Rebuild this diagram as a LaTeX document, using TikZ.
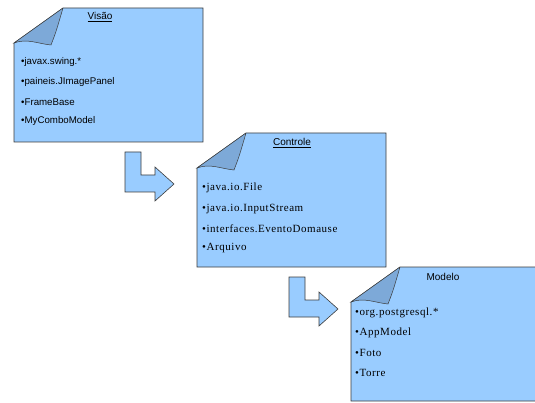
\documentclass[tikz,border=0pt]{standalone}
\usepackage{fontspec}
\usepackage{tikz}
\newfontfamily\arialfont{Liberation Sans}
\newfontfamily\timesfont[LetterSpace=5]{Liberation Serif}
\definecolor{notefill}{RGB}{153,204,255}
\definecolor{flapfill}{RGB}{125,169,216}
\definecolor{noteline}{RGB}{60,60,60}

\begin{document}
\begin{tikzpicture}[x=1pt,y=-1pt,
  note/.style={fill=notefill,draw=noteline,line width=0.6pt},
  flap/.style={fill=flapfill,draw=noteline,line width=0.5pt},
  bentarrow/.style={fill=notefill,draw=noteline,line width=0.6pt},
  title/.style={font=\arialfont\fontsize{10}{12}\selectfont,inner sep=0pt},
  item/.style={anchor=west,inner sep=0pt}]
\clip (0,0) rectangle (535,403);
\useasboundingbox (0,0) rectangle (535,403);

% Notes with folded corner
\foreach \xl/\yt/\xr/\yb in {14/8/203/142, 197/133/386/267, 351/267/545/401} {
    \draw[note] (\xl+49,\yt) -- (\xr,\yt) -- (\xr,\yb) -- (\xl,\yb) -- (\xl,\yt+35) -- cycle;
    \draw[flap] (\xl+49,\yt) -- (\xl,\yt+35) .. controls (\xl+13,\yt+30) and (\xl+25,\yt+36) .. (\xl+37,\yt+37)
        .. controls (\xl+42,\yt+24) .. (\xl+49,\yt);
}

% Titles
\node[title] (visao) at (100,17) {\underline{Visão}};
\node[title] (controle) at (292,143) {\underline{Controle}};
\node[title] (modelo) at (443,277) {Modelo};

% Items
\foreach \y/\txt [count=\i] in {62/javax.swing.*, 82/paineis.JImagePanel, 102/FrameBase, 121/MyComboModel} {
    \node[item,font=\arialfont\fontsize{9.7}{11}\selectfont] (v\i) at (21,\y) {\textbullet\txt};
}
\foreach \y/\txt [count=\i] in {188/java.io.File, 209/java.io.InputStream, 229/interfaces.EventoDomause, 248/Arquivo} {
    \node[item,font=\timesfont\fontsize{11}{12}\selectfont] (c\i) at (202,\y) {\textbullet\txt};
}
\foreach \y/\txt [count=\i] in {313/org.postgresql.*, 333/AppModel, 353/Foto, 373/Torre} {
    \node[item,font=\timesfont\fontsize{11}{12}\selectfont] (m\i) at (355,\y) {\textbullet\txt};
}

% Bent arrows
\foreach \ax/\ay in {125/152, 289/277} {
    \draw[bentarrow] (\ax,\ay) -- (\ax+16,\ay) -- (\ax+16,\ay+23) -- (\ax+30,\ay+23) -- (\ax+30,\ay+15)
        -- (\ax+49,\ay+32) -- (\ax+30,\ay+49) -- (\ax+30,\ay+40) -- (\ax,\ay+40) -- cycle;
}
\end{tikzpicture}
\end{document}
